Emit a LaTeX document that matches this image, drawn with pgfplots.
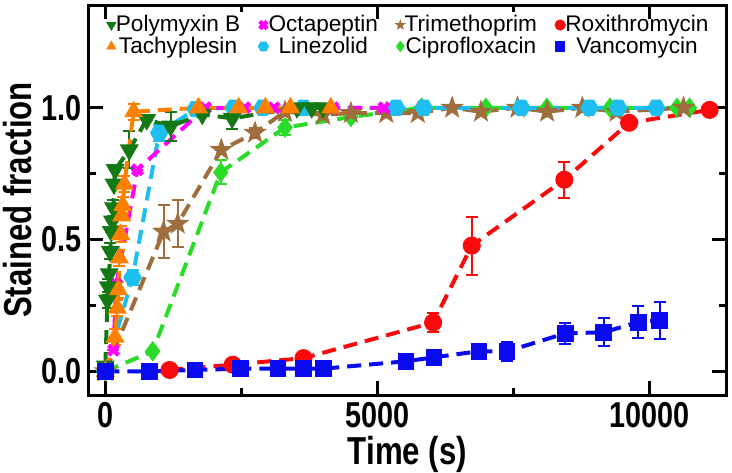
\documentclass[border=0pt]{standalone}
\usepackage{pgfplots}
\pgfplotsset{compat=1.18}
\usepackage{fontspec}
\setmainfont{Liberation Sans}
\newfontfamily\condfont{Liberation Sans}[FakeStretch=0.8]

\definecolor{cPoly}{RGB}{20,120,20}
\definecolor{cTachy}{RGB}{255,128,0}
\definecolor{cOcta}{RGB}{255,0,255}
\definecolor{cLine}{RGB}{30,190,240}
\definecolor{cTrim}{RGB}{160,110,60}
\definecolor{cCipro}{RGB}{40,220,40}
\definecolor{cRoxi}{RGB}{250,10,10}
\definecolor{cVanc}{RGB}{10,10,240}

% filled five point star
\pgfdeclareplotmark{fstar}{%
  \pgfpathmoveto{\pgfpointpolar{90}{1.05\pgfplotmarksize}}%
  \pgfpathlineto{\pgfpointpolar{126}{0.42\pgfplotmarksize}}%
  \pgfpathlineto{\pgfpointpolar{162}{1.05\pgfplotmarksize}}%
  \pgfpathlineto{\pgfpointpolar{198}{0.42\pgfplotmarksize}}%
  \pgfpathlineto{\pgfpointpolar{234}{1.05\pgfplotmarksize}}%
  \pgfpathlineto{\pgfpointpolar{270}{0.42\pgfplotmarksize}}%
  \pgfpathlineto{\pgfpointpolar{306}{1.05\pgfplotmarksize}}%
  \pgfpathlineto{\pgfpointpolar{342}{0.42\pgfplotmarksize}}%
  \pgfpathlineto{\pgfpointpolar{18}{1.05\pgfplotmarksize}}%
  \pgfpathlineto{\pgfpointpolar{54}{0.42\pgfplotmarksize}}%
  \pgfpathclose
  \pgfusepathqfillstroke}
% filled hexagon
\pgfdeclareplotmark{hexa}{%
  \pgfpathmoveto{\pgfpointpolar{0}{\pgfplotmarksize}}%
  \pgfpathlineto{\pgfpointpolar{60}{\pgfplotmarksize}}%
  \pgfpathlineto{\pgfpointpolar{120}{\pgfplotmarksize}}%
  \pgfpathlineto{\pgfpointpolar{180}{\pgfplotmarksize}}%
  \pgfpathlineto{\pgfpointpolar{240}{\pgfplotmarksize}}%
  \pgfpathlineto{\pgfpointpolar{300}{\pgfplotmarksize}}%
  \pgfpathclose
  \pgfusepathqfillstroke}

\pgfplotsset{
  curve/.style={line width=2pt, dash pattern=on 7pt off 4pt, mark size=3.5pt,
    error bars/y dir=both, error bars/y explicit,
    error bars/error bar style={solid, line width=1pt},
    error bars/error mark options={solid, rotate=90, mark size=3pt, line width=1pt}},
  sPoly/.style={color=cPoly, mark=triangle*, mark options={solid, rotate=180}},
  sTachy/.style={color=cTachy, mark=triangle*, mark options={solid}},
  sOcta/.style={color=cOcta, mark=x, mark options={solid, line width=2.2pt}},
  sLine/.style={color=cLine, mark=hexa, mark options={solid}},
  sTrim/.style={color=cTrim, mark=fstar, mark options={solid, scale=0.85}},
  sCipro/.style={color=cCipro, mark=diamond*, mark options={solid}},
  sRoxi/.style={color=cRoxi, mark=*, mark options={solid}},
  sVanc/.style={color=cVanc, mark=square*, mark options={solid, scale=0.9}},
}

\begin{document}
\begin{tikzpicture}
\begin{axis}[
  scale only axis, width=318.5pt, height=195pt,
  xmin=-300, xmax=11400, ymin=-0.09, ymax=1.39,
  xtick={0,5000,10000}, minor xtick={2500,7500},
  ytick={0,0.5,1}, minor ytick={0.25,0.75},
  scaled x ticks=false,
  xticklabel style={/pgf/number format/1000 sep={}},
  yticklabel style={/pgf/number format/.cd, fixed, fixed zerofill, precision=1},
  /pgf/number format/assume math mode=true,
  ticklabel style={font=\condfont\bfseries\fontsize{18}{19}\selectfont},
  tick align=inside, major tick length=7pt, minor tick length=3.5pt,
  tick style={black, line width=1.3pt},
  axis line style={line width=1.5pt},
  xlabel={Time (s)}, ylabel={Stained fraction},
  label style={font=\condfont\bfseries\fontsize{19.5}{21}\selectfont},
  xlabel style={yshift=2.5pt},
  ylabel style={yshift=-2pt},
  legend columns=4,
  legend style={at={(0.018,0.995)}, anchor=north west, draw=none, fill=none,
    font=\fontsize{11.3}{13}\selectfont, row sep=-3pt,
    /tikz/every even column/.append style={column sep=7pt},
    /tikz/every odd column/.append style={column sep=-2pt}},
  legend image code/.code={\draw[#1, mark size=2.6pt] plot coordinates {(0.12cm,0cm)};},
  clip=false,
]
% Ciprofloxacin
\addplot[curve, sCipro, forget plot] coordinates {
(0,0) +- (0,0)
(870,0.076) +- (0,0)
(2120,0.755) +- (0,0.045)
(3300,0.925) +- (0,0.03)
(4510,0.965) +- (0,0)
(5810,1.0) +- (0,0)
(6990,1.0) +- (0,0)
(8110,1.0) +- (0,0)
(9270,1.0) +- (0,0)
(10500,1.0) +- (0,0)
(10730,1.0) +- (0,0)
};
% Trimethoprim
\addplot[curve, sTrim, forget plot] coordinates {
(0,0) +- (0,0)
(1070,0.53) +- (0,0.1)
(1330,0.56) +- (0,0.09)
(2130,0.84) +- (0,0)
(2750,0.905) +- (0,0.02)
(3300,0.985) +- (0,0)
(4000,0.973) +- (0,0)
(4510,0.98) +- (0,0)
(5160,0.98) +- (0,0)
(5740,0.98) +- (0,0)
(6370,1.0) +- (0,0)
(6900,0.985) +- (0,0)
(7570,1.0) +- (0,0)
(8115,0.985) +- (0,0)
(8760,1.0) +- (0,0)
(9390,0.985) +- (0,0)
(10620,1.0) +- (0,0)
};
% Linezolid
\addplot[curve, sLine, forget plot] coordinates {
(0,0) +- (0,0)
(500,0.356) +- (0,0.03)
(990,0.905) +- (0,0.03)
(1660,0.995) +- (0,0)
(2360,1.0) +- (0,0)
(2890,1.0) +- (0,0)
(3640,1.0) +- (0,0)
(5340,1.0) +- (0,0)
(5850,1.0) +- (0,0)
(7640,1.0) +- (0,0)
(8890,1.0) +- (0,0)
(9420,1.0) +- (0,0)
(10120,1.0) +- (0,0)
};
% Octapeptin
\addplot[curve, sOcta, forget plot] coordinates {
(0,0) +- (0,0)
(150,0.08) +- (0,0)
(200,0.33) +- (0,0)
(590,0.765) +- (0,0)
(1840,1.0) +- (0,0)
(2560,1.0) +- (0,0)
(3100,1.0) +- (0,0)
(4180,1.0) +- (0,0)
(5120,1.0) +- (0,0)
};
% Polymyxin B
\addplot[curve, sPoly, forget plot] coordinates {
(0,0.02) +- (0,0)
(40,0.27) +- (0,0.03)
(55,0.32) +- (0,0.03)
(70,0.37) +- (0,0)
(90,0.455) +- (0,0.03)
(110,0.53) +- (0,0)
(130,0.57) +- (0,0)
(150,0.62) +- (0,0.03)
(160,0.71) +- (0,0)
(180,0.765) +- (0,0)
(440,0.84) +- (0,0.07)
(760,0.955) +- (0,0)
(1200,0.93) +- (0,0.055)
(1780,0.975) +- (0,0)
(2330,0.96) +- (0,0.04)
(3520,1.0) +- (0,0)
(3790,1.0) +- (0,0)
(4000,1.0) +- (0,0)
};
% Tachyplesin
\addplot[curve, sTachy, forget plot] coordinates {
(0,0) +- (0,0)
(180,0.13) +- (0,0.03)
(220,0.24) +- (0,0.03)
(240,0.31) +- (0,0.03)
(260,0.43) +- (0,0.03)
(280,0.52) +- (0,0.03)
(300,0.59) +- (0,0)
(320,0.63) +- (0,0.03)
(350,0.71) +- (0,0.03)
(520,0.985) +- (0,0.03)
(1710,1.0) +- (0,0)
(2450,1.0) +- (0,0)
(2940,1.0) +- (0,0)
(3400,1.0) +- (0,0)
(4140,1.0) +- (0,0)
};
% Roxithromycin
\addplot[curve, sRoxi, forget plot] coordinates {
(1180,0.005) +- (0,0)
(2340,0.025) +- (0,0)
(3640,0.05) +- (0,0)
(6020,0.185) +- (0,0.035)
(6730,0.477) +- (0,0.11)
(8430,0.727) +- (0,0.068)
(9620,0.943) +- (0,0)
(11100,0.992) +- (0,0)
};
% Vancomycin
\addplot[curve, sVanc, forget plot] coordinates {
(0,0) +- (0,0)
(810,0) +- (0,0)
(1650,0.005) +- (0,0)
(2480,0.01) +- (0,0)
(3170,0.01) +- (0,0)
(3640,0.01) +- (0,0)
(4010,0.01) +- (0,0)
(5520,0.038) +- (0,0)
(6040,0.053) +- (0,0)
(6860,0.076) +- (0,0)
(7380,0.076) +- (0,0.036)
(8450,0.144) +- (0,0.04)
(9150,0.148) +- (0,0.053)
(9790,0.186) +- (0,0.06)
(10180,0.193) +- (0,0.07)
};
% legend, filled row by row
\addlegendimage{only marks, sPoly}\addlegendentry{Polymyxin B}
\addlegendimage{only marks, sOcta}\addlegendentry{Octapeptin}
\addlegendimage{only marks, sTrim}\addlegendentry{Trimethoprim}
\addlegendimage{only marks, sRoxi}\addlegendentry{Roxithromycin}
\addlegendimage{only marks, sTachy}\addlegendentry{Tachyplesin}
\addlegendimage{only marks, sLine}\addlegendentry{Linezolid}
\addlegendimage{only marks, sCipro}\addlegendentry{Ciprofloxacin}
\addlegendimage{only marks, sVanc}\addlegendentry{Vancomycin}
\end{axis}
\pgfresetboundingbox
\path[use as bounding box] ([shift={(-44.5pt,-38.5pt)}]current axis.south west)
  rectangle ([shift={(3pt,2.5pt)}]current axis.north east);
\end{tikzpicture}
\end{document}
